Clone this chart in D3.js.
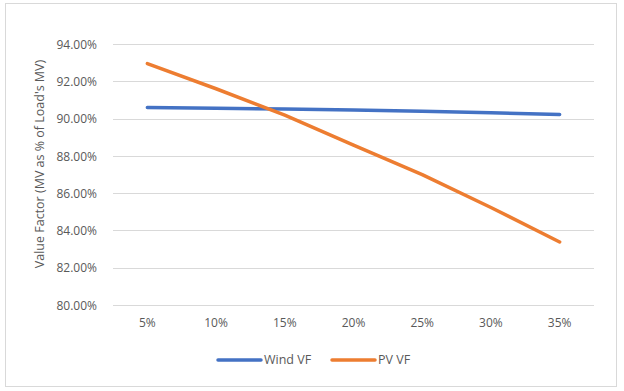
<!DOCTYPE html>
<html>
<head>
<meta charset="utf-8">
<script src="https://cdn.jsdelivr.net/npm/d3@7"></script>
<style>
  body { margin: 0; background: #fff; }
  text { font-family: "Open Sans", "Noto Sans", sans-serif; fill: #595959; }
</style>
</head>
<body>
<div id="chart"></div>
<script>
// data
const categories = ["5%", "10%", "15%", "20%", "25%", "30%", "35%"];
const windVF = [90.59, 90.55, 90.51, 90.46, 90.39, 90.31, 90.22];
const pvVF = [92.95, 91.60, 90.18, 88.58, 86.99, 85.23, 83.38];
const yTicks = [80, 82, 84, 86, 88, 90, 92, 94];
const seriesNames = ["Wind VF", "PV VF"];
const seriesColors = ["#4472C4", "#ED7D31"];

var W = 624, H = 391;
var margin = {top: 44, right: 30, bottom: 86, left: 113},
    width = 594 - margin.left,
    height = 305 - margin.top;

var svg = d3.select("#chart").append("svg")
    .attr("width", W)
    .attr("height", H);

// chart border
svg.append("rect")
    .attr("x", 5.5).attr("y", 3.5)
    .attr("width", 611).attr("height", 383)
    .attr("fill", "#fff")
    .attr("stroke", "#d9d9d9")
    .attr("stroke-width", 1);

var g = svg.append("g")
    .attr("transform", "translate(" + margin.left + "," + margin.top + ")");

var x = d3.scaleBand()
    .domain(categories)
    .range([0, width]);

var y = d3.scaleLinear()
    .domain([80, 94])
    .range([height, 0]);

// gridlines
g.append("g")
    .selectAll("line")
    .data(yTicks)
    .enter().append("line")
    .attr("x1", 0).attr("x2", width)
    .attr("y1", d => Math.round(y(d)) + 0.5)
    .attr("y2", d => Math.round(y(d)) + 0.5)
    .attr("stroke", "#d9d9d9")
    .attr("stroke-width", 1);

// y axis labels
var yAxis = g.append("g")
    .attr("transform", "translate(-13,0)")
    .call(d3.axisLeft(y).tickValues(yTicks).tickSize(0).tickFormat(d => d.toFixed(2) + "%"));
yAxis.select(".domain").remove();
yAxis.selectAll("text")
    .style("font-size", "12px")
    .attr("dy", "0.35em");

// x axis labels
var xAxis = g.append("g")
    .attr("transform", `translate(0,${height})`)
    .call(d3.axisBottom(x).tickSize(0));
xAxis.select(".domain").remove();
xAxis.selectAll("text")
    .style("font-size", "12px")
    .attr("y", 18)
    .attr("dy", "0.35em");

// y axis title
svg.append("text")
    .attr("transform", "translate(44,164) rotate(-90)")
    .attr("text-anchor", "middle")
    .style("font-size", "12.5px")
    .text("Value Factor (MV as % of Load's MV)");

var line = d3.line()
    .x((d, i) => x(categories[i]) + x.bandwidth() / 2)
    .y(d => y(d));

[windVF, pvVF].forEach(function(series, k) {
    g.append("path")
        .datum(series)
        .attr("fill", "none")
        .attr("stroke", seriesColors[k])
        .attr("stroke-width", 3.5)
        .attr("stroke-linecap", "round")
        .attr("stroke-linejoin", "round")
        .attr("d", line);
});

// legend
var legend = svg.append("g")
    .selectAll("g")
    .data(seriesNames)
    .enter().append("g")
    .attr("transform", (d, i) => `translate(${218 + i * 114},360)`);

legend.append("line")
    .attr("x1", 0).attr("x2", 43)
    .attr("stroke", (d, i) => seriesColors[i])
    .attr("stroke-width", 3.5)
    .attr("stroke-linecap", "round");

legend.append("text")
    .attr("x", 46)
    .attr("dy", "0.35em")
    .style("font-size", "12.5px")
    .text(d => d);
</script>
</body>
</html>
